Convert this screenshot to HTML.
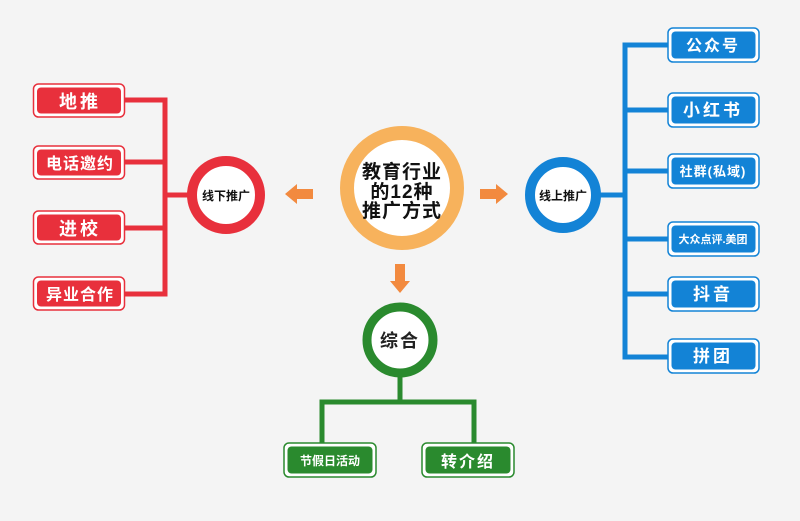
<!DOCTYPE html>
<html><head><meta charset="utf-8"><style>
body{margin:0;width:800px;height:516px;background:#f4f4f4;overflow:hidden;font-family:"Liberation Sans","Noto Sans CJK SC",sans-serif;}
</style></head><body>
<svg width="800" height="516" xmlns="http://www.w3.org/2000/svg" font-family="'Liberation Sans','Noto Sans CJK SC',sans-serif" font-weight="bold">
<g stroke="#e8303c" stroke-width="5" fill="none">
<polyline points="125,100 165,100 165,294 125,294"/>
<line x1="125" y1="162" x2="165" y2="162"/>
<line x1="125" y1="228" x2="165" y2="228"/>
<line x1="165" y1="195" x2="190" y2="195"/>
</g>
<g>
<rect x="33.5" y="84" width="91" height="33" rx="5" fill="#fff" stroke="#e8303c" stroke-width="1.5"/><rect x="37" y="87.5" width="84" height="26" rx="4" fill="#e8303c"/>
<rect x="33.5" y="146" width="91" height="33" rx="5" fill="#fff" stroke="#e8303c" stroke-width="1.5"/><rect x="37" y="149.5" width="84" height="26" rx="4" fill="#e8303c"/>
<rect x="33.5" y="211" width="91" height="33" rx="5" fill="#fff" stroke="#e8303c" stroke-width="1.5"/><rect x="37" y="214.5" width="84" height="26" rx="4" fill="#e8303c"/>
<rect x="33.5" y="277" width="91" height="33" rx="5" fill="#fff" stroke="#e8303c" stroke-width="1.5"/><rect x="37" y="280.5" width="84" height="26" rx="4" fill="#e8303c"/>
</g>
<g fill="#fff" text-anchor="middle">
<text x="80" y="108" font-size="18" letter-spacing="3">地推</text>
<text x="80" y="169" font-size="16" letter-spacing="1">电话邀约</text>
<text x="80" y="235" font-size="18" letter-spacing="3">进校</text>
<text x="80" y="300" font-size="16" letter-spacing="1">异业合作</text>
</g>
<circle cx="226" cy="195" r="34" fill="#fff" stroke="#e8303c" stroke-width="10"/>
<text x="226" y="200" font-size="12" text-anchor="middle" fill="#111">线下推广</text>

<circle cx="402" cy="188" r="55" fill="#fff" stroke="#f7b25c" stroke-width="14"/>
<g font-size="19" text-anchor="middle" fill="#111" letter-spacing="1">
<text x="402" y="178">教育行业</text>
<text x="402" y="198">的12种</text>
<text x="402" y="217">推广方式</text>
</g>
<g fill="#f28a3f">
<polygon points="285,194 297,184 297,189 313,189 313,199 297,199 297,204"/>
<polygon points="508,194 496,184 496,189 480,189 480,199 496,199 496,204"/>
<polygon points="400,293 390,281 395,281 395,264 405,264 405,281 410,281"/>
</g>

<g stroke="#1383d6" stroke-width="5" fill="none">
<polyline points="668,45 625,45 625,357 668,357"/>
<line x1="625" y1="110" x2="668" y2="110"/>
<line x1="625" y1="171" x2="668" y2="171"/>
<line x1="625" y1="239" x2="668" y2="239"/>
<line x1="625" y1="294" x2="668" y2="294"/>
<line x1="600" y1="195" x2="625" y2="195"/>
</g>
<g>
<rect x="668" y="28" width="91" height="34" rx="5" fill="#fff" stroke="#1383d6" stroke-width="1.5"/><rect x="671.5" y="31.5" width="84" height="27" rx="4" fill="#1383d6"/>
<rect x="668" y="93" width="91" height="34" rx="5" fill="#fff" stroke="#1383d6" stroke-width="1.5"/><rect x="671.5" y="96.5" width="84" height="27" rx="4" fill="#1383d6"/>
<rect x="668" y="154" width="91" height="34" rx="5" fill="#fff" stroke="#1383d6" stroke-width="1.5"/><rect x="671.5" y="157.5" width="84" height="27" rx="4" fill="#1383d6"/>
<rect x="668" y="222" width="91" height="34" rx="5" fill="#fff" stroke="#1383d6" stroke-width="1.5"/><rect x="671.5" y="225.5" width="84" height="27" rx="4" fill="#1383d6"/>
<rect x="668" y="277" width="91" height="34" rx="5" fill="#fff" stroke="#1383d6" stroke-width="1.5"/><rect x="671.5" y="280.5" width="84" height="27" rx="4" fill="#1383d6"/>
<rect x="668" y="339" width="91" height="34" rx="5" fill="#fff" stroke="#1383d6" stroke-width="1.5"/><rect x="671.5" y="342.5" width="84" height="27" rx="4" fill="#1383d6"/>
</g>
<g fill="#fff" text-anchor="middle">
<text x="713" y="51" font-size="16" letter-spacing="2">公众号</text>
<text x="713" y="116" font-size="17" letter-spacing="3">小红书</text>
<text x="713" y="176" font-size="13" letter-spacing="1">社群(私域)</text>
<text x="713" y="243" font-size="11">大众点评.美团</text>
<text x="713" y="300" font-size="17" letter-spacing="3">抖音</text>
<text x="713" y="362" font-size="17" letter-spacing="3">拼团</text>
</g>
<circle cx="563" cy="195" r="33" fill="#fff" stroke="#1383d6" stroke-width="10"/>
<text x="563" y="200" font-size="12" text-anchor="middle" fill="#111">线上推广</text>

<g stroke="#2a8a2e" stroke-width="5" fill="none">
<line x1="400" y1="376" x2="400" y2="402"/>
<polyline points="322,445 322,402 474,402 474,445"/>
</g>
<circle cx="400" cy="340" r="33" fill="#fff" stroke="#2a8a2e" stroke-width="9"/>
<text x="400" y="347" font-size="18" text-anchor="middle" fill="#222" letter-spacing="2">综合</text>
<rect x="284" y="443" width="92" height="34" rx="5" fill="#fff" stroke="#2a8a2e" stroke-width="1.5"/><rect x="287.5" y="446.5" width="85" height="27" rx="4" fill="#2a8a2e"/>
<rect x="422" y="443" width="92" height="34" rx="5" fill="#fff" stroke="#2a8a2e" stroke-width="1.5"/><rect x="425.5" y="446.5" width="85" height="27" rx="4" fill="#2a8a2e"/>
<text x="330" y="465" font-size="12" text-anchor="middle" fill="#fff">节假日活动</text>
<text x="468" y="467" font-size="16" text-anchor="middle" fill="#fff" letter-spacing="2">转介绍</text>
</svg>
</body></html>
